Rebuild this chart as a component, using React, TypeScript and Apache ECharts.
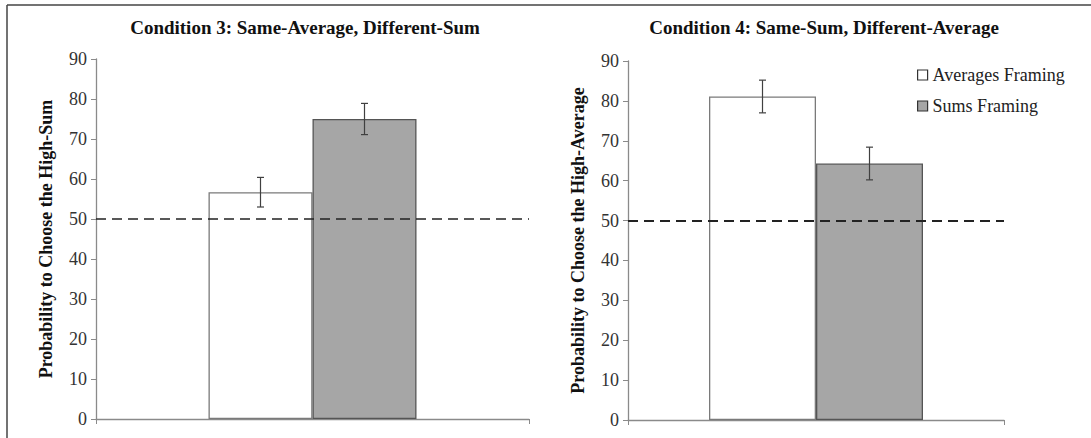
import React, { useEffect, useRef } from "react";
import * as echarts from "echarts";

// ---- data ----
const categories = ["Framing"];
const seriesNames = ["Averages Framing", "Sums Framing"];
const cond3Values = [56.7, 75.0];
const cond3Errors = [3.7, 3.9];
const cond4Values = [81.1, 64.3];
const cond4Errors = [4.1, 4.1];
const yMin = 0;
const yMax = 90;
const yStep = 10;
const chanceLevel = 50;
const panelTitles = [
  "Condition 3: Same-Average, Different-Sum",
  "Condition 4: Same-Sum, Different-Average",
];
const yAxisNames = [
  "Probability to Choose the High-Sum",
  "Probability to Choose the High-Average",
];

const FONT = "Liberation Serif";
const barWidths = [104, 107];
const fills = ["#ffffff", "#a6a6a6"];
const borders = ["#7a7a7a", "#555555"];

function errorSeries(values: number[], errors: number[], panel: number) {
  const bw = barWidths[panel];
  return {
    type: "custom",
    xAxisIndex: panel,
    yAxisIndex: panel,
    z: 5,
    silent: true,
    data: values.map((v, i) => [0, v - errors[i], v + errors[i], i === 0 ? -1 : 1]),
    renderItem: (params: any, api: any) => {
      const cat = api.value(0);
      const lo = api.coord([cat, api.value(1)]);
      const hi = api.coord([cat, api.value(2)]);
      const x = lo[0] + (api.value(3) * bw) / 2;
      const cap = 3.5;
      const style = { stroke: "#404040", lineWidth: 1.2 };
      return {
        type: "group",
        children: [
          { type: "line", shape: { x1: x, y1: hi[1], x2: x, y2: lo[1] }, style },
          { type: "line", shape: { x1: x - cap, y1: hi[1], x2: x + cap, y2: hi[1] }, style },
          { type: "line", shape: { x1: x - cap, y1: lo[1], x2: x + cap, y2: lo[1] }, style },
        ],
      };
    },
  };
}

function barSeries(values: number[], panel: number, dashWidth: number) {
  return values.map((v, i) => {
    const s: any = {
      name: seriesNames[i],
      type: "bar",
      xAxisIndex: panel,
      yAxisIndex: panel,
      barWidth: barWidths[panel],
      barGap: "0%",
      data: [v],
      itemStyle: { color: fills[i], borderColor: borders[i], borderWidth: 1.3 },
    };
    if (i === 1) {
      s.markLine = {
        silent: true,
        symbol: ["none", "none"],
        label: { show: false },
        lineStyle: { type: [10, 6], color: "#222222", width: dashWidth },
        data: [{ yAxis: chanceLevel }],
      };
    }
    return s;
  });
}

function makeOption(): any {
  const axisColor = "#8a8a8a";
  const xAxis = [0, 1].map((p) => ({
    type: "category",
    gridIndex: p,
    data: categories,
    axisLabel: { show: false },
    axisLine: { lineStyle: { color: axisColor, width: 1.3 } },
    axisTick: { show: true, length: 5, lineStyle: { color: axisColor } },
  }));
  const yAxis = [0, 1].map((p) => ({
    type: "value",
    gridIndex: p,
    min: yMin,
    max: yMax,
    interval: yStep,
    splitLine: { show: false },
    axisLine: { show: true, lineStyle: { color: axisColor, width: 1.3 } },
    axisTick: { show: true, length: 5, lineStyle: { color: axisColor } },
    axisLabel: { fontFamily: FONT, fontSize: 18, color: "#333333", margin: 9 },
    name: yAxisNames[p],
    nameLocation: "middle",
    nameGap: 41,
    nameTextStyle: { fontFamily: FONT, fontSize: 18, fontWeight: "bold", color: "#111111" },
  }));
  return {
    animation: false,
    backgroundColor: "#ffffff",
    grid: [
      { left: 96, top: 59, width: 433, height: 360 },
      { left: 628, top: 61, width: 376, height: 359 },
    ],
    xAxis,
    yAxis,
    legend: {
      orient: "vertical",
      left: 912,
      top: 61,
      itemWidth: 10,
      itemHeight: 10,
      itemGap: 13,
      itemTextGap: 3,
      icon: "rect",
      selectedMode: false,
      textStyle: { fontFamily: FONT, fontSize: 18, color: "#222222" },
      data: seriesNames.map((n, i) => ({
        name: n,
        itemStyle: { color: fills[i], borderColor: "#333333", borderWidth: 1.2 },
      })),
    },
    graphic: [
      {
        type: "line",
        shape: { x1: 7, y1: 5, x2: 1091, y2: 5 },
        style: { stroke: "#444444", lineWidth: 1.5 },
      },
      {
        type: "line",
        shape: { x1: 7, y1: 5, x2: 7, y2: 438 },
        style: { stroke: "#444444", lineWidth: 1.5 },
      },
      {
        type: "text",
        x: 305,
        y: 27,
        style: {
          text: panelTitles[0],
          align: "center",
          verticalAlign: "middle",
          fontFamily: FONT,
          fontSize: 19,
          fontWeight: "bold",
          fill: "#111111",
        },
      },
      {
        type: "text",
        x: 824,
        y: 27,
        style: {
          text: panelTitles[1],
          align: "center",
          verticalAlign: "middle",
          fontFamily: FONT,
          fontSize: 19,
          fontWeight: "bold",
          fill: "#111111",
        },
      },
    ],
    series: [
      ...barSeries(cond3Values, 0, 1.6),
      errorSeries(cond3Values, cond3Errors, 0),
      ...barSeries(cond4Values, 1, 2),
      errorSeries(cond4Values, cond4Errors, 1),
    ],
  };
}

export default function App() {
  const ref = useRef<HTMLDivElement>(null);
  useEffect(() => {
    if (!ref.current) return;
    const chart = echarts.init(ref.current, undefined, { renderer: "svg" });
    chart.setOption(makeOption());
    return () => chart.dispose();
  }, []);
  return (
    <div
      ref={ref}
      style={{ position: "absolute", left: 0, top: 0, width: 1091, height: 438 }}
    />
  );
}
